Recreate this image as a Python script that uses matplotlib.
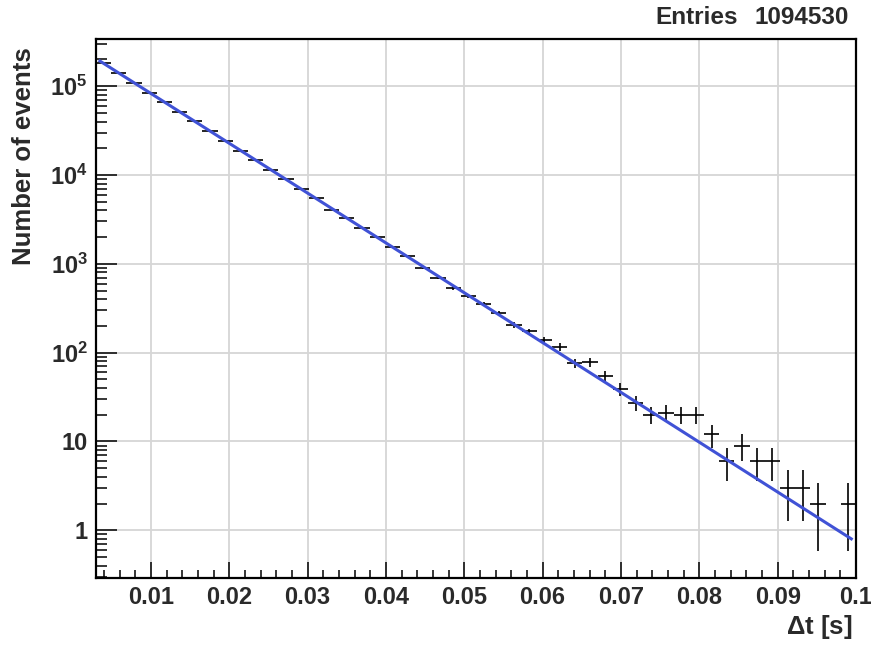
import numpy as np
import matplotlib
matplotlib.use("Agg")
import matplotlib.pyplot as plt
from matplotlib.ticker import FixedLocator, MultipleLocator, LogLocator, NullFormatter

plt.rcParams['font.family'] = ['Liberation Sans', 'DejaVu Sans']
plt.rcParams['font.weight'] = 'bold'
plt.rcParams['mathtext.fontset'] = 'custom'
plt.rcParams['mathtext.rm'] = 'Liberation Sans:bold'
plt.rcParams['mathtext.bf'] = 'Liberation Sans:bold'
plt.rcParams['mathtext.it'] = 'Liberation Sans:bold'

# histogram: 50 bins between 0.003 and 0.1 s
bin_lo = 0.003
bin_hi = 0.1
counts = [181000, 141000, 108000, 84500, 66400, 51600, 40300, 31600, 24400, 18800,
          14700, 11500, 8970, 7030, 5480, 4080, 3270, 2560, 1990, 1550,
          1230, 908, 701, 533, 429, 356, 279, 206, 173, 137,
          116, 76, 78, 54, 39, 27, 20, 21, 20, 20,
          12, 6, 9, 6, 6, 3, 3, 2, 0, 2]
entries = 1094530

# exponential fit (straight on log axis), evaluated at the ends of its range
fit_x = [0.0035, 0.0994]
fit_y = [1.92e5, 0.80]

x_ticks = [0.01, 0.02, 0.03, 0.04, 0.05, 0.06, 0.07, 0.08, 0.09, 0.1]
x_labels = ['0.01', '0.02', '0.03', '0.04', '0.05', '0.06', '0.07', '0.08', '0.09', '0.1']
y_ticks = [1, 10, 1e2, 1e3, 1e4, 1e5]
y_labels = ['1', '10', r'$10^{2}$', r'$10^{3}$', r'$10^{4}$', r'$10^{5}$']

text_col = '#2a2a2a'

fig = plt.figure(figsize=(8.71, 6.46), dpi=100)
ax = fig.add_axes([96 / 871, 1 - 578 / 646, 760 / 871, 539 / 646])

counts = np.array(counts, dtype=float)
edges = np.linspace(bin_lo, bin_hi, len(counts) + 1)
centers = 0.5 * (edges[:-1] + edges[1:])
half = 0.5 * (edges[1] - edges[0])
ok = counts > 0
ax.errorbar(centers[ok], counts[ok], xerr=half, yerr=np.sqrt(counts[ok]),
            fmt='none', ecolor='black', elinewidth=1.2, capsize=0, zorder=3)

ax.plot(fit_x, fit_y, color='#4052d6', lw=2.2, zorder=4)

ax.set_yscale('log')
ax.set_xlim(bin_lo, bin_hi)
ax.set_ylim(0.29, 3.4e5)

ax.xaxis.set_major_locator(FixedLocator(x_ticks))
ax.set_xticklabels(x_labels)
ax.xaxis.set_minor_locator(MultipleLocator(0.002))
ax.yaxis.set_major_locator(FixedLocator(y_ticks))
ax.set_yticklabels(y_labels)
ax.yaxis.set_minor_locator(LogLocator(base=10, subs=np.arange(2, 10)))
ax.yaxis.set_minor_formatter(NullFormatter())

ax.tick_params(axis='both', which='both', direction='in', colors='black',
               labelcolor=text_col, labelsize=17, top=False, right=False)
ax.tick_params(axis='x', which='major', length=11.5, width=1.1, pad=6)
ax.tick_params(axis='x', which='minor', length=5.8, width=1.1)
ax.tick_params(axis='y', which='major', length=15, width=1.1, pad=6)
ax.tick_params(axis='y', which='minor', length=8, width=1.1)

ax.grid(True, which='major', color='#d6d6d6', lw=1.3)
ax.set_axisbelow(True)
for s in ax.spines.values():
    s.set_linewidth(1.6)
    s.set_color('black')

fig.text(852 / 871, 1 - 627 / 646, r'$\Delta$t [s]', ha='right', va='center',
         fontsize=18.5, color=text_col, fontweight='bold')
fig.text(24 / 871, 1 - 47 / 646, 'Number of events', rotation=90, ha='center',
         va='top', fontsize=18.5, color=text_col, fontweight='bold')
fig.text(655 / 871, 1 - 18 / 646, 'Entries', ha='left', va='center',
         fontsize=17.5, color=text_col, fontweight='bold')
fig.text(849 / 871, 1 - 18 / 646, str(entries), ha='right', va='center',
         fontsize=17.5, color=text_col, fontweight='bold')

fig.savefig('out.png', dpi=100)
